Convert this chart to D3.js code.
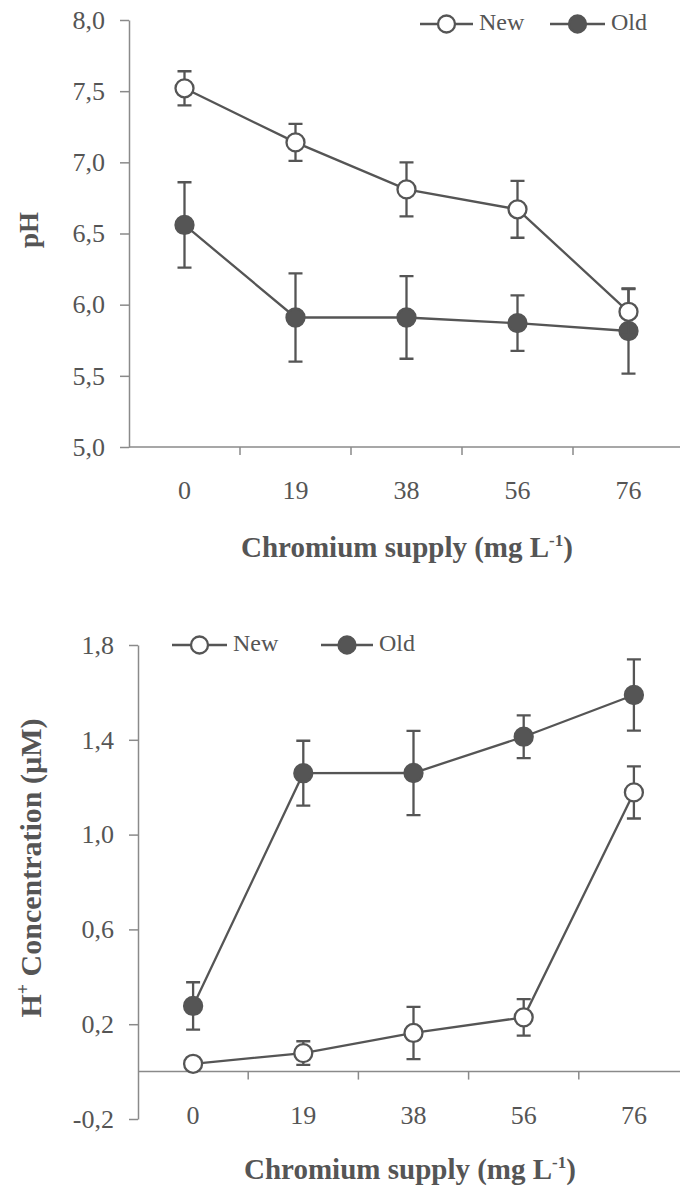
<!DOCTYPE html>
<html>
<head>
<meta charset="utf-8">
<script src="https://cdn.jsdelivr.net/npm/d3@7"></script>
<style>
  body { margin: 0; background: #fff; }
</style>
</head>
<body>
<div id="chart"></div>
<script>
// data
const categories = ['0', '19', '38', '56', '76'];

const phNew = [7.52, 7.14, 6.81, 6.67, 5.95];
const phNewErr = [0.12, 0.13, 0.19, 0.20, 0.16];
const phOld = [6.56, 5.91, 5.91, 5.87, 5.815];
const phOldErr = [0.30, 0.31, 0.29, 0.195, 0.30];
const phTicks = [5.0, 5.5, 6.0, 6.5, 7.0, 7.5, 8.0];

const hNew = [0.033, 0.078, 0.163, 0.229, 1.178];
const hNewErr = [0.01, 0.05, 0.11, 0.077, 0.11];
const hOld = [0.277, 1.259, 1.26, 1.413, 1.589];
const hOldErr = [0.10, 0.137, 0.178, 0.09, 0.15];
const hTicks = [-0.2, 0.2, 0.6, 1.0, 1.4, 1.8];

const width = 680;
const height = 1192;
const font = "'Liberation Serif', 'Times New Roman', serif";
const textColor = '#555';
const lineColor = '#555';
const axisColor = '#8a8a8a';
const fmt = v => d3.format('.1f')(v).replace('.', ',').replace('\u2212', '-');

const svg = d3.select('#chart')
    .append('svg')
    .attr('width', width)
    .attr('height', height)
    .attr('font-family', font);

const drawPanel = (p) => {
    const x = d3.scaleBand()
        .domain(categories)
        .range([p.left, p.right])
        .padding(0);

    const y = d3.scaleLinear()
        .domain(p.domain)
        .range([p.bottom, p.top]);

    const g = svg.append('g');

    // y axis
    g.append('g')
        .attr('transform', `translate(${p.left}, 0)`)
        .call(d3.axisLeft(y).tickValues(p.ticks).tickFormat(fmt).tickSize(9).tickPadding(15).tickSizeOuter(0))
        .attr('font-family', font)
        .call(a => a.select('.domain').attr('stroke', axisColor).attr('stroke-width', 1.5))
        .call(a => a.selectAll('line').attr('stroke', axisColor).attr('stroke-width', 1.5))
        .call(a => a.selectAll('text')
            .style('font-family', font)
            .attr('font-size', 26)
            .attr('fill', textColor));

    // x axis line at baseline value, tick marks between categories
    const y0 = y(p.base);
    g.append('line')
        .attr('x1', p.left).attr('x2', width)
        .attr('y1', y0).attr('y2', y0)
        .attr('stroke', axisColor).attr('stroke-width', 1.5);

    g.selectAll('.xtick')
        .data(categories.slice(1).concat(['end']))
        .enter()
        .append('line')
            .attr('x1', d => d === 'end' ? p.right : x(d))
            .attr('x2', d => d === 'end' ? p.right : x(d))
            .attr('y1', y0)
            .attr('y2', y0 + 8)
            .attr('stroke', axisColor).attr('stroke-width', 1.5);

    g.selectAll('.xlabel')
        .data(categories)
        .enter()
        .append('text')
            .attr('x', d => x(d) + x.bandwidth() / 2)
            .attr('y', y0 + 46)
            .attr('text-anchor', 'middle')
            .attr('dominant-baseline', 'middle')
            .attr('font-size', 26)
            .attr('fill', textColor)
            .style('font-family', font)
            .text(d => d);

    // x title
    const xt = g.append('text')
        .attr('x', p.xTitleX)
        .attr('y', p.xTitleY)
        .attr('text-anchor', 'middle')
        .attr('font-size', 29)
        .attr('font-weight', 'bold')
        .attr('fill', textColor)
        .style('font-family', font);
    xt.append('tspan').text('Chromium supply (mg L');
    xt.append('tspan').attr('dy', -11).attr('font-size', 17).text('-1');
    xt.append('tspan').attr('dy', 11).text(')');

    // y title
    const yt = g.append('text')
        .attr('transform', `translate(${p.yTitleX}, ${p.yTitleY}) rotate(-90)`)
        .attr('text-anchor', 'middle')
        .attr('font-size', p.yTitleSize)
        .attr('font-weight', 'bold')
        .attr('fill', textColor)
        .style('font-family', font);
    p.yTitle(yt);

    const cx = (i) => x(categories[i]) + x.bandwidth() / 2;

    const series = [
        { vals: p.old, errs: p.oldErr, fill: lineColor },
        { vals: p.nw, errs: p.nwErr, fill: '#fff' }
    ];

    const line = d3.line()
        .x((d, i) => cx(i))
        .y(d => y(d));

    series.forEach(s => {
        const sg = g.append('g');

        sg.selectAll('.err')
            .data(s.vals)
            .enter()
            .append('path')
                .attr('d', (d, i) => {
                    const lo = y(d - s.errs[i]);
                    const hi = y(d + s.errs[i]);
                    const c = cx(i);
                    return `M${c},${lo}V${hi}M${c - 7},${hi}H${c + 7}M${c - 7},${lo}H${c + 7}`;
                })
                .attr('fill', 'none')
                .attr('stroke', lineColor)
                .attr('stroke-width', 2.3);

        sg.append('path')
            .datum(s.vals)
            .attr('d', line)
            .attr('fill', 'none')
            .attr('stroke', lineColor)
            .attr('stroke-width', 2.3);

        sg.selectAll('circle')
            .data(s.vals)
            .enter()
            .append('circle')
                .attr('cx', (d, i) => cx(i))
                .attr('cy', d => y(d))
                .attr('r', 9)
                .attr('fill', s.fill)
                .attr('stroke', lineColor)
                .attr('stroke-width', 2.3);
    });

    // legend
    p.legend.forEach(l => {
        g.append('line')
            .attr('x1', l.x1).attr('x2', l.x2)
            .attr('y1', l.y).attr('y2', l.y)
            .attr('stroke', lineColor).attr('stroke-width', 2.3);
        g.append('circle')
            .attr('cx', (l.x1 + l.x2) / 2).attr('cy', l.y)
            .attr('r', 8.5)
            .attr('fill', l.fill)
            .attr('stroke', lineColor).attr('stroke-width', 2.3);
        g.append('text')
            .attr('x', l.x2 + 6).attr('y', l.y)
            .attr('dominant-baseline', 'middle')
            .attr('font-size', 24)
            .attr('fill', textColor)
            .style('font-family', font)
            .text(l.name);
    });
};

drawPanel({
    left: 129, right: 684, top: 20, bottom: 447,
    domain: [5, 8], ticks: phTicks, base: 5,
    nw: phNew, nwErr: phNewErr, old: phOld, oldErr: phOldErr,
    xTitleX: 407, xTitleY: 557,
    yTitleX: 38, yTitleY: 230, yTitleSize: 27,
    yTitle: t => t.text('pH'),
    legend: [
        { name: 'New', x1: 420, x2: 473, y: 24, fill: '#fff' },
        { name: 'Old', x1: 550, x2: 605, y: 24, fill: lineColor }
    ]
});

drawPanel({
    left: 138, right: 689, top: 645, bottom: 1119,
    domain: [-0.2, 1.8], ticks: hTicks, base: 0,
    nw: hNew, nwErr: hNewErr, old: hOld, oldErr: hOldErr,
    xTitleX: 410, xTitleY: 1179,
    yTitleX: 41, yTitleY: 868, yTitleSize: 30,
    yTitle: t => {
        t.append('tspan').text('H');
        t.append('tspan').attr('dy', -12).attr('font-size', 18).text('+');
        t.append('tspan').attr('dy', 12).text(' Concentration (µM)');
    },
    legend: [
        { name: 'New', x1: 172, x2: 227, y: 645, fill: '#fff' },
        { name: 'Old', x1: 321, x2: 373, y: 645, fill: lineColor }
    ]
});
</script>
</body>
</html>
